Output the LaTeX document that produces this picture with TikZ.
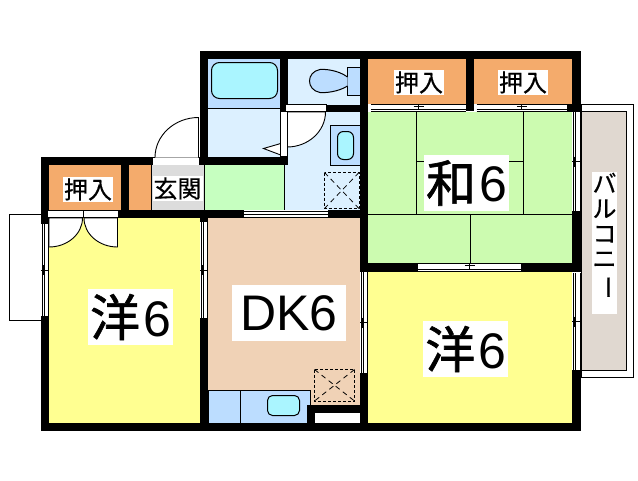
\documentclass[tikz,border=0pt]{standalone}
\usepackage{fontspec}
\setmainfont{Liberation Sans}
\newfontfamily\cjk[FakeBold=0.5]{Noto Sans CJK JP}
\newfontfamily\cjkbig[FakeBold=1.2]{Noto Sans CJK JP}
\definecolor{wall}{HTML}{000000}
\definecolor{closet}{HTML}{F4AB6C}
\definecolor{tatami}{HTML}{CCFBB0}
\definecolor{west}{HTML}{FFFF91}
\definecolor{dk}{HTML}{F0D2B6}
\definecolor{wet}{HTML}{DCF0FF}
\definecolor{fixture}{HTML}{BCDDFF}
\definecolor{tub}{HTML}{AAF5FF}
\definecolor{hall}{HTML}{C6FFC0}
\definecolor{entry}{HTML}{DCDCDC}
\definecolor{deck}{HTML}{E0D8D0}
\tikzset{
 x=1pt,y=-1pt,
 wallbar/.style={fill=wall,draw=none},
 room/.style={draw=none},
 thin line/.style={draw=black,line width=1pt},
 fixturebox/.style={draw=black,line width=1pt,fill=fixture},
 basin/.style={draw=black,line width=1pt,fill=tub,rounded corners=#1},
 drainbox/.style={draw=black,line width=1pt,dash pattern=on 3pt off 2pt},
 drainx/.style={draw=black,line width=.8pt,dash pattern=on 5pt off 4pt},
 swing/.style={draw=black,line width=.9pt,fill=white},
 lab/.style={fill=white,inner sep=0pt,font=\cjk\fontsize{24}{24}\selectfont,text=black},
 biglab/.style={fill=white,inner sep=0pt,font=\fontsize{50}{50}\selectfont,text=black},
}
% vertical sliding window: x-left, x-right, y-top, y-bottom
\newcommand{\winV}[4]{%
 \fill[white] (#1,#3) rectangle (#2,#4);
 \draw[line width=1pt] ({#1+1},#3) -- ({#1+1},#4);
 \draw[line width=1pt] ({#1+3},#3) -- ({#1+3},#4);
 \draw[line width=1pt] ({#2-.5},#3) -- ({#2-.5},#4);
 \draw[line width=1pt] (#1,{(#3+#4)/2}) -- (#2,{(#3+#4)/2});
 \draw[line width=1pt] ({#1+2},{(#3+#4)/2-5}) -- ({#1+2},{(#3+#4)/2+5});
}
% horizontal sliding window: x-left, x-right, y-top, y-bottom
\newcommand{\winH}[4]{%
 \fill[white] (#1,#3) rectangle (#2,#4);
 \draw[line width=1pt] (#1,{#3+.5}) -- (#2,{#3+.5});
 \draw[line width=1pt] (#1,{#4-2.5}) -- (#2,{#4-2.5});
 \draw[line width=1pt] (#1,{#4-.5}) -- (#2,{#4-.5});
 \draw[line width=1pt] ({(#1+#2)/2},#3) -- ({(#1+#2)/2},{#4-2.5});
 \draw[line width=1pt] ({(#1+#2)/2-5},{#3+2.5}) -- ({(#1+#2)/2+5},{#3+2.5});
}
\begin{document}
\begin{tikzpicture}
\useasboundingbox (0,0) rectangle (638,480);
\fill[white] (0,0) rectangle (638,480);
% left balcony
\draw[thin line,fill=white] (9.5,214.5) rectangle (41,320.5);
% right balcony
\draw[thin line,fill=white] (581,104.5) rectangle (633.5,377);
\draw[thin line,fill=deck] (581,111.5) rectangle (626.5,370);
% rooms
\fill[closet] (49,165) rectangle (121,210);
\fill[closet] (129,165) rectangle (152,210);
\fill[entry] (152,165) rectangle (204.5,210);
\fill[hall] (204.5,165) rectangle (285,210);
\fill[wet] (285,112) rectangle (360,210);
\fill[wet] (208,59) rectangle (280,157);
\fill[wet] (288,59) rectangle (360,105);
\fill[fixture] (208,59) rectangle (280,108.5);
\fill[closet] (368,59) rectangle (466,104);
\fill[closet] (474,59) rectangle (572,104);
\fill[tatami] (368,112) rectangle (572,263);
\fill[west] (49,218) rectangle (200,423);
\fill[west] (368,272) rectangle (572,423);
\fill[dk] (208,218) rectangle (360,405);
\fill[dk] (208,390) rectangle (307,423);
% room divider lines
\draw[thin line] (151.5,165) -- (151.5,210);
\draw[thin line] (204.5,165) -- (204.5,210);
\draw[thin line] (284.5,165) -- (284.5,210);
\draw[thin line] (208,108.5) -- (280,108.5);
% tatami lines
\draw[thin line] (416.5,112) -- (416.5,214);
\draw[thin line] (523.5,112) -- (523.5,214);
\draw[thin line] (368,214) -- (572,214);
\draw[thin line] (416.5,161.5) -- (523.5,161.5);
\draw[thin line] (470.5,214) -- (470.5,263);
% fixtures
\draw[basin=8pt] (211.5,62.5) rectangle (277.5,98.5);
\draw[fixturebox] (347.5,67.5) rectangle (360,95.5);
\draw[fixturebox] (347.5,77) .. controls (338,70) and (325,69) .. (320,69.5) .. controls (306,72) and (306,90) .. (320,92.5) .. controls (325,93) and (338,92) .. (347.5,86);
\draw[fixturebox] (330.5,125.5) rectangle (360,165.5);
\draw[basin=6pt] (337.5,131.5) rectangle (353.5,159.5);
\draw[drainbox] (324.5,172.5) rectangle (359,208.5);
\draw[drainx] (324.5,172.5) -- (359,208.5);
\draw[drainx] (359,172.5) -- (324.5,208.5);
\draw[fixturebox] (208,390.5) rectangle (310.5,423);
\draw[thin line] (240.5,390.5) -- (240.5,423);
\draw[basin=5pt] (267.5,395.5) rectangle (299.5,415.5);
\draw[drainbox] (314.5,369.5) rectangle (354.5,401);
\draw[drainx] (314.5,369.5) -- (354.5,401);
\draw[drainx] (354.5,369.5) -- (314.5,401);
% small storage
\fill[white] (315,413) rectangle (360,423);
% walls
\fill[wallbar] (200,51) rectangle (581,59);
\fill[wallbar] (200,51) rectangle (208,165);
\fill[wallbar] (280,59) rectangle (288,111);
\fill[wallbar] (326,105) rectangle (368,112);
\fill[wallbar] (41,157) rectangle (153,165);
\fill[wallbar] (199,157) rectangle (288,165);
\fill[wallbar] (121,165) rectangle (129,210);
\fill[wallbar] (41,157) rectangle (49,224);
\fill[wallbar] (118,210) rectangle (244,218);
\fill[wallbar] (328,210) rectangle (368,218);
\fill[wallbar] (41,316) rectangle (49,431);
\fill[wallbar] (41,423) rectangle (581,431);
\fill[wallbar] (200,218) rectangle (208,318);
\fill[wallbar] (200,318) rectangle (208,423);
\fill[wallbar] (360,59) rectangle (368,272);
\fill[wallbar] (360,373) rectangle (368,423);
\fill[wallbar] (466,59) rectangle (474,111);
\fill[wallbar] (572,59) rectangle (581,112);
\fill[wallbar] (566,104) rectangle (581,112);
\fill[wallbar] (572,211) rectangle (581,272);
\fill[wallbar] (360,263) rectangle (418,272);
\fill[wallbar] (521,263) rectangle (581,272);
\fill[wallbar] (572,370) rectangle (581,431);
\fill[wallbar] (307,405) rectangle (360,413);
\fill[wallbar] (307,405) rectangle (315,423);
% windows
\winV{41}{49}{224}{316}
\winV{200}{208}{222}{318}
\winV{360}{368}{272}{373}
\winV{572}{581}{112}{211}
\winV{572}{581}{273}{370}
\winH{418}{521}{263}{272}
\winH{371}{466}{104}{112}
\winH{476.5}{567}{104}{112}
% plain sliding panels
\fill[white] (244,210) rectangle (327.5,218);
\draw[line width=1pt] (244,211) -- (327.5,211);
\draw[line width=1pt] (244,214.5) -- (327.5,214.5);
\draw[line width=1pt] (244,217) -- (327.5,217);
% entrance door
\fill[white] (153,157) rectangle (199,165);
\draw[thin line] (153,157.5) -- (199,157.5);
\draw[swing] (198.5,157.5) -- (198.5,117.5) .. controls (174.5,117.5) and (155,135.5) .. (155,157.5);
% bathroom door
\draw[swing] (287,112) -- (325.5,112) .. controls (325.5,131.3) and (308.2,147) .. (287,147) -- cycle;
\draw[swing] (263.5,148.5) -- (280.7,143.5) -- (280.7,155) -- cycle;
\fill[white,draw=black,line width=1pt] (280.7,111) rectangle (287,156);
\fill[white,draw=black,line width=1pt] (285,104.5) rectangle (326,111.5);
% closet double door
\draw[swing] (49,218) -- (82.5,218) .. controls (82.5,234) and (67.5,247) .. (49,247) -- cycle;
\draw[swing] (117.5,218) -- (84,218) .. controls (84,234) and (99,247) .. (117.5,247) -- cycle;
\fill[white] (48,210.5) rectangle (118,218);
\draw[thin line] (48,210.5) -- (118,210.5);
\draw[thin line] (48,217.5) -- (118,217.5);
\draw[thin line] (83.3,210.5) -- (83.3,217.5);
% labels
\node[lab,minimum width=50pt,minimum height=25pt] (oshiireA) at (88,189.5) {押入};
\node[lab,minimum width=50pt,minimum height=25pt] (genkan) at (177.5,188.5) {玄関};
\node[lab,minimum width=50pt,minimum height=25pt] (oshiireB) at (419,82.5) {押入};
\node[lab,minimum width=50pt,minimum height=25pt] (oshiireC) at (523,82.5) {押入};
\node[biglab,minimum width=85pt,minimum height=56pt] (washitsu) at (466.5,183) {{\cjkbig 和}\kern3pt 6};
\node[biglab,minimum width=85pt,minimum height=56pt] (yoA) at (130.5,317) {{\cjkbig 洋}\kern3pt 6};
\node[biglab,minimum width=85pt,minimum height=56pt] (yoB) at (465.7,349) {{\cjkbig 洋}\kern3pt 6};
\node[biglab,minimum width=114pt,minimum height=56pt] (dkroom) at (289,313) {DK6};
\fill[white] (592,172) rectangle (616.7,314);
\node[inner sep=0pt,align=center,font=\cjk\fontsize{24}{25}\selectfont] (balcony) at (604.5,236) {バ\\ル\\コ\\ニ\\\rotatebox[origin=c]{-90}{ー}};
\end{tikzpicture}
\end{document}
